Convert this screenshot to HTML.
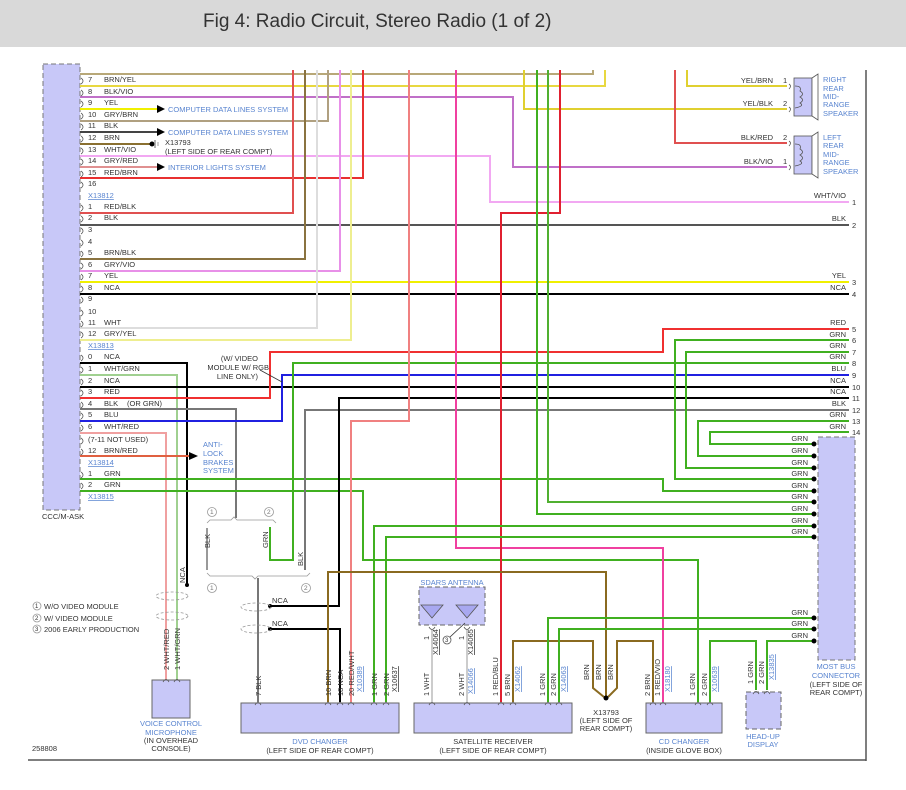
<!DOCTYPE html>
<html><head><meta charset="utf-8"><style>
body{margin:0;background:#fff;width:906px;height:790px;overflow:hidden}
svg{display:block}
text{font-family:"Liberation Sans",sans-serif;font-size:7.5px;fill:#333}
.b{fill:#5a85d0}
.u{text-decoration:underline}
</style></head><body>
<svg width="906" height="790" viewBox="0 0 906 790" xmlns="http://www.w3.org/2000/svg">
<rect x="0" y="0" width="906" height="47" fill="#d9d9d9"/>
<text x="203" y="27" style="font-size:19px;fill:#333">Fig 4: Radio Circuit, Stereo Radio (1 of 2)</text>
<!-- frame -->
<line x1="866" y1="70" x2="866" y2="761" stroke="#555" stroke-width="1.5"/>
<line x1="28" y1="760" x2="866" y2="760" stroke="#555" stroke-width="1.5"/>
<!-- ECU -->
<rect x="43" y="64" width="37" height="446" fill="#c8c8f8" stroke="#777" stroke-dasharray="5,3"/>
<text x="42" y="519">CCC/M-ASK</text>
<g fill="none" stroke-width="2">
<polyline stroke="#b8a878" points="80,74 593,74 593,70"/>
<polyline stroke="#e8d840" points="80,86 605,86 605,70"/>
<polyline stroke="#c070c8" points="80,97 513,97 513,167 787,167"/>
<polyline stroke="#f0f000" points="80,109 158,109"/>
<polyline stroke="#e0d030" points="524,70 524,109 787,109"/>
<polyline stroke="#b0a080" points="80,121 328,121 328,70"/>
<polyline stroke="#444" points="80,132 158,132"/>
<polyline stroke="#8a7030" points="80,144 150,144"/>
<polyline stroke="#f2a8f2" points="80,156 490,156 490,202 849,202"/>
<polyline stroke="#e09090" points="80,167 158,167"/>
<polyline stroke="#e83030" points="80,178 363,178 363,70"/>
<polyline stroke="#e05050" points="80,213 293,213 293,70"/>
<polyline stroke="#555" points="80,225 849,225"/>
<polyline stroke="#8a7340" points="80,259 305,259 305,70"/>
<polyline stroke="#e890e8" points="80,271 340,271 340,70"/>
<polyline stroke="#f0f000" points="80,282 849,282"/>
<polyline stroke="#000" points="80,294 849,294"/>
<polyline stroke="#ddd" points="80,328 317,328 317,70"/>
<polyline stroke="#eeee90" points="80,340 351,340 351,70"/>
<polyline stroke="#000" points="80,363 187,363 187,585"/>
<polyline stroke="#a0d090" points="80,375 177,375 177,688"/>
<polyline stroke="#000" points="80,387 849,387"/>
<polyline stroke="#f03030" points="80,398 270,398 270,352 663,352 663,329 849,329"/>
<polyline stroke="#777" points="80,409 236,409 236,518"/>
<polyline stroke="#2020e0" points="80,421 282,421 282,375 849,375"/>
<polyline stroke="#f0a0a0" points="80,433 166,433 166,688"/>
<polyline stroke="#e06040" points="80,456 190,456"/>
<polyline stroke="#40b020" points="80,479 663,479 663,491 814,491"/>
<polyline stroke="#40b020" points="80,491 363,491 363,560 698,560 698,702"/>
<polyline stroke="#40b020" points="849,363 293,363 293,560 270,560 270,527"/>
<polyline stroke="#777" points="305,570 305,410 849,410"/>
<polyline stroke="#000" points="270,606 339,606 339,398 849,398"/>
<polyline stroke="#000" points="270,629 340,629 340,702"/>
<polyline stroke="#f08080" points="409,70 409,421 351,421 351,702"/>
<polyline stroke="#f040a0" points="456,70 456,548 663,548 663,702"/>
<polyline stroke="#e02030" points="560,70 560,213 501,213 501,702"/>
<polyline stroke="#40b020" points="537,70 537,514 814,514"/>
<polyline stroke="#50b030" points="548,70 548,502 814,502"/>
<polyline stroke="#40b020" points="374,702 374,526 814,526"/>
<polyline stroke="#40b020" points="386,702 386,537 814,537"/>
<polyline stroke="#8a6a20" points="328,702 328,572 606,572 606,697"/>
<polyline stroke="#8a6a20" points="513,702 513,641 593,641 593,688 604,697"/>
<polyline stroke="#8a6a20" points="653,702 653,641 617,641 617,688 608,697"/>
<polyline stroke="#40b020" points="548,702 548,618 814,618"/>
<polyline stroke="#40b020" points="559,702 559,629 814,629"/>
<polyline stroke="#40b020" points="710,702 710,641 756,641 756,690"/>
<polyline stroke="#40b020" points="767,690 767,641 814,641"/>
<polyline stroke="#40b020" points="849,340 675,340 675,479 814,479"/>
<polyline stroke="#40b020" points="849,352 686,352 686,468 814,468"/>
<polyline stroke="#40b020" points="849,421 698,421 698,456 814,456"/>
<polyline stroke="#40b020" points="849,432 710,432 710,444 814,444"/>
<polyline stroke="#e05050" points="675,70 675,143 787,143"/>
<polyline stroke="#e0d030" points="687,70 687,86 787,86"/>
<polyline stroke="#ccc" points="432,630 432,702"/>
<polyline stroke="#ccc" points="467,630 467,702"/>
<polyline stroke="#777" points="258,578 258,702"/>
<polyline stroke="#999" points="207,528 207,570"/>
</g>
<!-- arrows -->
<g fill="#000">
<polygon points="157,105 165,109 157,113"/><polygon points="157,128 165,132 157,136"/>
<polygon points="157,163 165,167 157,171"/><polygon points="189,452 198,456 189,460"/>
<circle cx="152" cy="144" r="2.5"/><circle cx="187" cy="585" r="2"/>
<circle cx="270" cy="606" r="2"/><circle cx="270" cy="629" r="2"/>
<circle cx="606" cy="698" r="2.5"/>
<circle cx="814" cy="444" r="2.5"/><circle cx="814" cy="456" r="2.5"/><circle cx="814" cy="468" r="2.5"/>
<circle cx="814" cy="479" r="2.5"/><circle cx="814" cy="491" r="2.5"/><circle cx="814" cy="502" r="2.5"/>
<circle cx="814" cy="514" r="2.5"/><circle cx="814" cy="526" r="2.5"/><circle cx="814" cy="537" r="2.5"/>
<circle cx="814" cy="618" r="2.5"/><circle cx="814" cy="629" r="2.5"/><circle cx="814" cy="641" r="2.5"/>
</g>
<line x1="155" y1="140" x2="155" y2="148" stroke="#999" stroke-width="1.5"/><line x1="158" y1="142" x2="158" y2="146" stroke="#999"/>
<!-- ECU pin arcs -->
<path fill="none" stroke="#555" stroke-width="0.8" d="M81,78 q4,3 0,6 M81,90 q4,3 0,6 M81,101 q4,3 0,6 M81,113 q4,3 0,6 M81,124 q4,3 0,6 M81,136 q4,3 0,6 M81,148 q4,3 0,6 M81,159 q4,3 0,6 M81,171 q4,3 0,6 M81,182 q4,3 0,6 M81,205 q4,3 0,6 M81,216 q4,3 0,6 M81,228 q4,3 0,6 M81,240 q4,3 0,6 M81,251 q4,3 0,6 M81,263 q4,3 0,6 M81,274 q4,3 0,6 M81,286 q4,3 0,6 M81,297 q4,3 0,6 M81,310 q4,3 0,6 M81,321 q4,3 0,6 M81,332 q4,3 0,6 M81,355 q4,3 0,6 M81,367 q4,3 0,6 M81,379 q4,3 0,6 M81,390 q4,3 0,6 M81,402 q4,3 0,6 M81,413 q4,3 0,6 M81,425 q4,3 0,6 M81,438 q4,3 0,6 M81,449 q4,3 0,6 M81,472 q4,3 0,6 M81,483 q4,3 0,6"/>
<!-- ECU labels -->
<g>
<text x="88" y="82">7</text><text x="104" y="82">BRN/YEL</text>
<text x="88" y="94">8</text><text x="104" y="94">BLK/VIO</text>
<text x="88" y="105">9</text><text x="104" y="105">YEL</text>
<text x="88" y="117">10</text><text x="104" y="117">GRY/BRN</text>
<text x="88" y="128">11</text><text x="104" y="128">BLK</text>
<text x="88" y="140">12</text><text x="104" y="140">BRN</text>
<text x="88" y="152">13</text><text x="104" y="152">WHT/VIO</text>
<text x="88" y="163">14</text><text x="104" y="163">GRY/RED</text>
<text x="88" y="175">15</text><text x="104" y="175">RED/BRN</text>
<text x="88" y="186">16</text>
<text x="88" y="198" class="b u">X13812</text>
<text x="88" y="209">1</text><text x="104" y="209">RED/BLK</text>
<text x="88" y="220">2</text><text x="104" y="220">BLK</text>
<text x="88" y="232">3</text><text x="88" y="244">4</text>
<text x="88" y="255">5</text><text x="104" y="255">BRN/BLK</text>
<text x="88" y="267">6</text><text x="104" y="267">GRY/VIO</text>
<text x="88" y="278">7</text><text x="104" y="278">YEL</text>
<text x="88" y="290">8</text><text x="104" y="290">NCA</text>
<text x="88" y="301">9</text><text x="88" y="314">10</text>
<text x="88" y="325">11</text><text x="104" y="325">WHT</text>
<text x="88" y="336">12</text><text x="104" y="336">GRY/YEL</text>
<text x="88" y="348" class="b u">X13813</text>
<text x="88" y="359">0</text><text x="104" y="359">NCA</text>
<text x="88" y="371">1</text><text x="104" y="371">WHT/GRN</text>
<text x="88" y="383">2</text><text x="104" y="383">NCA</text>
<text x="88" y="394">3</text><text x="104" y="394">RED</text>
<text x="88" y="406">4</text><text x="104" y="406">BLK</text><text x="127" y="406">(OR GRN)</text>
<text x="88" y="417">5</text><text x="104" y="417">BLU</text>
<text x="88" y="429">6</text><text x="104" y="429">WHT/RED</text>
<text x="88" y="442">(7-11 NOT USED)</text>
<text x="88" y="453">12</text><text x="104" y="453">BRN/RED</text>
<text x="88" y="465" class="b u">X13814</text>
<text x="88" y="476">1</text><text x="104" y="476">GRN</text>
<text x="88" y="487">2</text><text x="104" y="487">GRN</text>
<text x="88" y="499" class="b u">X13815</text>
<text x="168" y="112" class="b">COMPUTER DATA LINES SYSTEM</text>
<text x="168" y="135" class="b">COMPUTER DATA LINES SYSTEM</text>
<text x="165" y="145">X13793</text>
<text x="165" y="154">(LEFT SIDE OF REAR COMPT)</text>
<text x="168" y="170" class="b">INTERIOR LIGHTS SYSTEM</text>
<text x="258" y="361" text-anchor="end">(W/ VIDEO</text>
<text x="269" y="370" text-anchor="end">MODULE W/ RGB</text>
<text x="258" y="379" text-anchor="end">LINE ONLY)</text>
<text x="203" y="447" class="b">ANTI-</text><text x="203" y="456" class="b">LOCK</text>
<text x="203" y="465" class="b">BRAKES</text><text x="203" y="473" class="b">SYSTEM</text>
</g>
<line x1="260" y1="370" x2="282" y2="382" stroke="#333" stroke-width="0.8"/>
<!-- right labels -->
<g text-anchor="end">
<text x="846" y="198">WHT/VIO</text><text x="846" y="221">BLK</text>
<text x="846" y="278">YEL</text><text x="846" y="290">NCA</text>
<text x="846" y="325">RED</text><text x="846" y="337">GRN</text><text x="846" y="348">GRN</text>
<text x="846" y="359">GRN</text><text x="846" y="371">BLU</text><text x="846" y="383">NCA</text>
<text x="846" y="394">NCA</text><text x="846" y="406">BLK</text><text x="846" y="417">GRN</text><text x="846" y="429">GRN</text>
<text x="808" y="441">GRN</text><text x="808" y="453">GRN</text><text x="808" y="465">GRN</text>
<text x="808" y="476">GRN</text><text x="808" y="488">GRN</text><text x="808" y="499">GRN</text>
<text x="808" y="511">GRN</text><text x="808" y="523">GRN</text><text x="808" y="534">GRN</text>
<text x="808" y="615">GRN</text><text x="808" y="626">GRN</text><text x="808" y="638">GRN</text>
<text x="773" y="83">YEL/BRN</text><text x="773" y="106">YEL/BLK</text>
<text x="773" y="140">BLK/RED</text><text x="773" y="164">BLK/VIO</text>
</g>
<g>
<text x="852" y="205">1</text><text x="852" y="228">2</text><text x="852" y="285">3</text><text x="852" y="297">4</text>
<text x="852" y="332">5</text><text x="852" y="343">6</text><text x="852" y="355">7</text><text x="852" y="366">8</text>
<text x="852" y="378">9</text><text x="852" y="390">10</text><text x="852" y="401">11</text><text x="852" y="413">12</text>
<text x="852" y="424">13</text><text x="852" y="435">14</text>
<text x="783" y="83">1</text><text x="783" y="106">2</text><text x="783" y="140">2</text><text x="783" y="164">1</text>
</g>
<!-- speakers -->
<g stroke="#555" stroke-width="0.8">
<rect x="794" y="78" width="18" height="38" fill="#c8c8f8"/>
<polygon points="812,78 818,74 818,120 812,116" fill="#fff"/>
<rect x="794" y="136" width="18" height="38" fill="#c8c8f8"/>
<polygon points="812,136 818,132 818,178 812,174" fill="#fff"/>
<path fill="none" d="M789,84 q3,2 0,5 M789,107 q3,2 0,5 M789,141 q3,2 0,5 M789,165 q3,2 0,5 M795,86 q7,0 5,5 q5,3 0,6 q5,3 0,6 q5,3 -5,5 M795,144 q7,0 5,5 q5,3 0,6 q5,3 0,6 q5,3 -5,5"/>
</g>
<g class="b">
<text x="823" y="82" class="b">RIGHT</text><text x="823" y="91" class="b">REAR</text><text x="823" y="99" class="b">MID-</text>
<text x="823" y="107" class="b">RANGE</text><text x="823" y="116" class="b">SPEAKER</text>
<text x="823" y="140" class="b">LEFT</text><text x="823" y="148" class="b">REAR</text><text x="823" y="157" class="b">MID-</text>
<text x="823" y="165" class="b">RANGE</text><text x="823" y="174" class="b">SPEAKER</text>
</g>
<!-- MOST -->
<rect x="818" y="437" width="37" height="223" fill="#c8c8f8" stroke="#777" stroke-dasharray="5,3"/>
<g text-anchor="middle">
<text x="836" y="669" class="b">MOST BUS</text><text x="836" y="678" class="b">CONNECTOR</text>
<text x="836" y="687">(LEFT SIDE OF</text><text x="836" y="695">REAR COMPT)</text>
<text x="171" y="726" class="b">VOICE CONTROL</text><text x="171" y="735" class="b">MICROPHONE</text>
<text x="171" y="743">(IN OVERHEAD</text><text x="171" y="751">CONSOLE)</text>
<text x="320" y="744" class="b">DVD CHANGER</text><text x="320" y="753">(LEFT SIDE OF REAR COMPT)</text>
<text x="493" y="744">SATELLITE RECEIVER</text><text x="493" y="753">(LEFT SIDE OF REAR COMPT)</text>
<text x="684" y="744" class="b">CD CHANGER</text><text x="684" y="753">(INSIDE GLOVE BOX)</text>
<text x="763" y="739" class="b">HEAD-UP</text><text x="763" y="747" class="b">DISPLAY</text>
<text x="606" y="715">X13793</text><text x="606" y="723">(LEFT SIDE OF</text><text x="606" y="731">REAR COMPT)</text>
<text x="452" y="585" class="b">SDARS ANTENNA</text>
<text x="432" y="602">SAT</text><text x="467" y="602">TER</text>
</g>
<!-- boxes -->
<g stroke="#666" fill="#c8c8f8">
<rect x="152" y="680" width="38" height="38"/>
<rect x="241" y="703" width="158" height="30"/>
<rect x="414" y="703" width="158" height="30"/>
<rect x="646" y="703" width="76" height="30"/>
<rect x="746" y="692" width="35" height="37" stroke-dasharray="5,3"/>
<rect x="419" y="587" width="66" height="38" stroke-dasharray="5,3"/>
</g>
<g stroke="#555" fill="#a8a8f0" stroke-width="0.8">
<polygon points="421,605 443,605 432,618"/><polygon points="456,605 478,605 467,618"/>
</g>
<!-- bottom pin arcs -->
<path fill="none" stroke="#555" stroke-width="0.8" d="M163,682 q3,-5 6,0 M174,682 q3,-5 6,0 M255,705 q3,-5 6,0 M325,705 q3,-5 6,0 M337,705 q3,-5 6,0 M348,705 q3,-5 6,0 M371,705 q3,-5 6,0 M383,705 q3,-5 6,0 M429,705 q3,-5 6,0 M464,705 q3,-5 6,0 M498,705 q3,-5 6,0 M510,705 q3,-5 6,0 M545,705 q3,-5 6,0 M556,705 q3,-5 6,0 M650,705 q3,-5 6,0 M660,705 q3,-5 6,0 M695,705 q3,-5 6,0 M707,705 q3,-5 6,0 M753,694 q3,-5 6,0 M764,694 q3,-5 6,0 M429,627 q3,5 6,0 M464,627 q3,5 6,0"/>
<!-- vertical labels -->
<g>
<text transform="translate(169,670) rotate(-90)">2  WHT/RED</text>
<text transform="translate(180,670) rotate(-90)">1  WHT/GRN</text>
<text transform="translate(185,583) rotate(-90)">NCA</text>
<text transform="translate(261,696) rotate(-90)">7  BLK</text>
<text transform="translate(331,696) rotate(-90)">10  BRN</text>
<text transform="translate(343,696) rotate(-90)">18  NCA</text>
<text transform="translate(354,696) rotate(-90)">20  RED/WHT</text>
<text transform="translate(362,692) rotate(-90)" class="b u">X10389</text>
<text transform="translate(377,696) rotate(-90)">1  GRN</text>
<text transform="translate(389,696) rotate(-90)">2  GRN</text>
<text transform="translate(397,692) rotate(-90)" class="u">X10637</text>
<text transform="translate(429,696) rotate(-90)">1  WHT</text>
<text transform="translate(464,696) rotate(-90)">2  WHT</text>
<text transform="translate(429,640) rotate(-90)">1</text>
<text transform="translate(464,640) rotate(-90)">1</text>
<text transform="translate(438,655) rotate(-90)" class="u">X14064</text>
<text transform="translate(473,655) rotate(-90)" class="u">X14065</text>
<text transform="translate(473,694) rotate(-90)" class="b u">X14066</text>
<text transform="translate(498,696) rotate(-90)">1  RED/BLU</text>
<text transform="translate(510,696) rotate(-90)">5  BRN</text>
<text transform="translate(520,692) rotate(-90)" class="b u">X14062</text>
<text transform="translate(545,696) rotate(-90)">1  GRN</text>
<text transform="translate(556,696) rotate(-90)">2  GRN</text>
<text transform="translate(566,692) rotate(-90)" class="b u">X14063</text>
<text transform="translate(589,680) rotate(-90)">BRN</text>
<text transform="translate(601,680) rotate(-90)">BRN</text>
<text transform="translate(613,680) rotate(-90)">BRN</text>
<text transform="translate(650,696) rotate(-90)">2  BRN</text>
<text transform="translate(660,696) rotate(-90)">1  RED/VIO</text>
<text transform="translate(670,692) rotate(-90)" class="b u">X18180</text>
<text transform="translate(695,696) rotate(-90)">1  GRN</text>
<text transform="translate(707,696) rotate(-90)">2  GRN</text>
<text transform="translate(717,692) rotate(-90)" class="b u">X10639</text>
<text transform="translate(753,684) rotate(-90)">1  GRN</text>
<text transform="translate(764,684) rotate(-90)">2  GRN</text>
<text transform="translate(774,680) rotate(-90)" class="b u">X13835</text>
<text transform="translate(210,548) rotate(-90)">BLK</text>
<text transform="translate(268,548) rotate(-90)">GRN</text>
<text transform="translate(303,566) rotate(-90)">BLK</text>
<text x="272" y="603">NCA</text><text x="272" y="626">NCA</text>
</g>
<!-- brackets and circled numbers -->
<g fill="none" stroke="#999" stroke-width="0.8">
<path d="M207,523 l3,-3 h21 l3,-3 l3,3 h36 l3,3"/>
<path d="M207,573 l3,3 h42 l3,3 l3,-3 h49 l3,-3"/>
<circle cx="212" cy="512" r="4.5"/><circle cx="269" cy="512" r="4.5"/>
<circle cx="212" cy="588" r="4.5"/><circle cx="306" cy="588" r="4.5"/>
<circle cx="37" cy="606" r="4"/><circle cx="37" cy="618" r="4"/><circle cx="37" cy="629" r="4"/>
<circle cx="447" cy="640" r="4" stroke="#555"/>
<ellipse cx="172" cy="596" rx="16" ry="4" stroke-dasharray="3,2"/>
<ellipse cx="172" cy="616" rx="16" ry="4" stroke-dasharray="3,2"/>
<ellipse cx="256" cy="607" rx="15" ry="4" stroke-dasharray="3,2"/>
<ellipse cx="256" cy="629" rx="15" ry="4" stroke-dasharray="3,2"/>
</g>
<line x1="450" y1="637" x2="465" y2="623" stroke="#333" stroke-width="0.8"/>
<g style="font-size:6.5px">
<text x="210" y="514" style="font-size:6.5px;fill:#777">1</text><text x="267" y="514" style="font-size:6.5px;fill:#777">2</text>
<text x="210" y="590" style="font-size:6.5px;fill:#777">1</text><text x="304" y="590" style="font-size:6.5px;fill:#777">2</text>
<text x="35" y="608" style="font-size:6px">1</text><text x="35" y="620" style="font-size:6px">2</text><text x="35" y="631" style="font-size:6px">3</text>
<text x="445" y="642" style="font-size:6px">3</text>
</g>
<text x="44" y="609">W/O VIDEO MODULE</text>
<text x="44" y="621">W/ VIDEO MODULE</text>
<text x="44" y="632">2006 EARLY PRODUCTION</text>
<text x="32" y="751">258808</text>
</svg>
</body></html>
